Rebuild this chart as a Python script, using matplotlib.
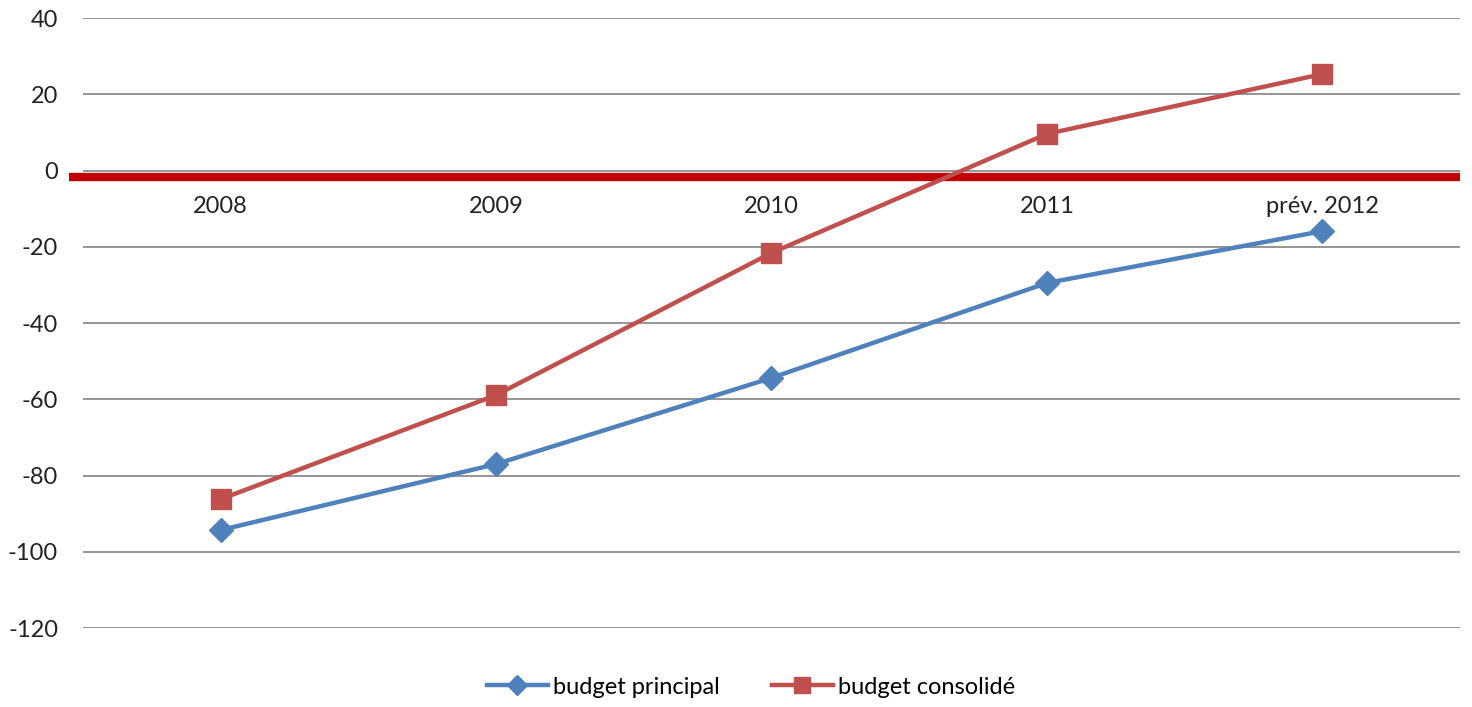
import matplotlib.pyplot as plt

categories = ['2008', '2009', '2010', '2011', 'prév. 2012']
budget_principal = [-94.3, -77.0, -54.4, -29.5, -15.9]
budget_consolide = [-86.2, -58.9, -21.6, 9.6, 25.3]
y_ticks = [-120, -100, -80, -60, -40, -20, 0, 20, 40]

plt.rcParams['font.family'] = ['Lato', 'DejaVu Sans']

fig = plt.figure(figsize=(14.72, 7.07), dpi=100)
ax = fig.add_axes([0.0564, 0.1117, 0.9354, 0.8628])

x = range(len(categories))
ax.plot(x, budget_principal, color='#4F81BD', lw=3.2, marker='D', ms=12,
        label='budget principal', zorder=4)
ax.plot(x, budget_consolide, color='#C0504D', lw=3.2, marker='s', ms=14,
        label='budget consolidé', zorder=4)

ax.set_xlim(-0.5, len(categories) - 0.5)
ax.set_ylim(-120, 40)
ax.set_yticks(y_ticks)
ax.set_yticklabels([str(v) for v in y_ticks], fontsize=17, color='#222222')
ax.tick_params(axis='y', length=0, pad=18)
ax.grid(axis='y', color='#8c8c8c', lw=1.3)
ax.set_axisbelow(True)
for s in ax.spines.values():
    s.set_visible(False)

# category labels sit just below the zero line
ax.spines['bottom'].set_position(('data', 0))
ax.set_xticks(list(x))
ax.set_xticklabels(categories, fontsize=17, color='#222222')
ax.tick_params(axis='x', length=0, pad=18)

# thick red zero line
ax.axhline(-1.6, xmin=-0.01, xmax=1.0, color='#C00000', lw=6, clip_on=False,
           solid_capstyle='butt', zorder=3)

ax.legend(loc='upper center', bbox_to_anchor=(0.485, -0.045), ncol=2, frameon=False,
          fontsize=17, handlelength=2.6, columnspacing=2.2, handletextpad=0.2,
          markerscale=0.85)

fig.savefig('out.png', dpi=100)
